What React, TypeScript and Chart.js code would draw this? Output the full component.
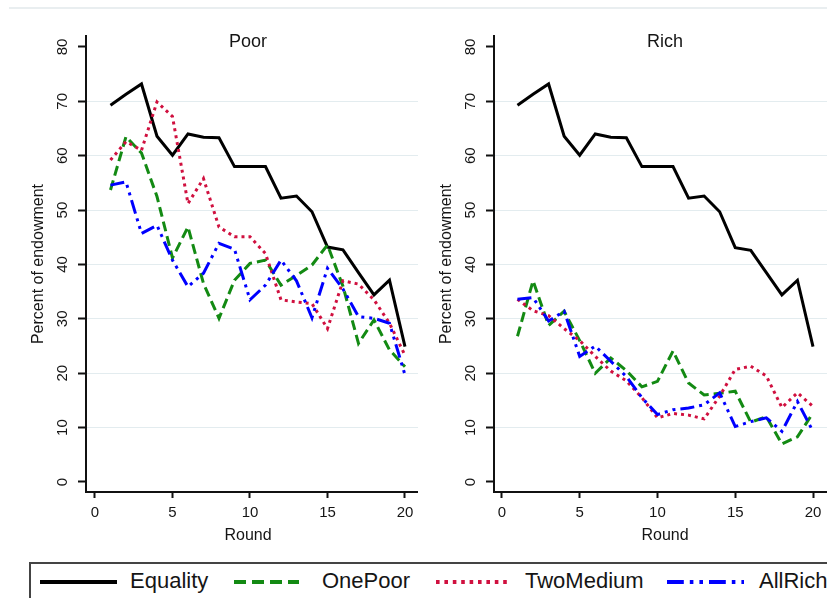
import React, { useEffect, useRef } from "react";
import { Chart, registerables } from "chart.js";

Chart.register(...registerables);

const FONT = "'Liberation Sans', Arial, sans-serif";

const rounds = [1, 2, 3, 4, 5, 6, 7, 8, 9, 10, 11, 12, 13, 14, 15, 16, 17, 18, 19, 20];
const xTicks = [0, 5, 10, 15, 20];
const yTicks = [0, 10, 20, 30, 40, 50, 60, 70, 80];
const seriesNames = ["Equality", "OnePoor", "TwoMedium", "AllRich"];
const panelTitles = ["Poor", "Rich"];
const xTitle = "Round";
const yTitle = "Percent of endowment";

// Poor panel
const poorEquality = [69.3, 71.3, 73.2, 63.6, 60.1, 64.0, 63.4, 63.3, 58.0, 58.0, 58.0, 52.2, 52.6, 49.7, 43.2, 42.7, 38.5, 34.4, 37.1, 24.9];
const poorOnePoor = [53.7, 63.5, 60.5, 52.5, 41.2, 46.9, 36.5, 30.1, 37.1, 40.2, 40.8, 36.2, 38.0, 39.9, 43.6, 36.0, 25.5, 29.8, 24.3, 21.2];
const poorTwoMedium = [59.2, 62.6, 61.0, 69.9, 67.2, 51.2, 55.8, 46.9, 45.1, 45.1, 42.0, 33.5, 33.1, 32.8, 28.2, 37.0, 36.4, 33.5, 29.2, 23.3];
const poorAllRich = [54.6, 55.2, 45.7, 47.2, 40.8, 35.9, 38.4, 43.9, 42.8, 33.5, 36.2, 40.8, 37.0, 30.2, 39.3, 35.5, 30.4, 30.1, 29.2, 19.7];

// Rich panel
const richEquality = [69.3, 71.3, 73.2, 63.6, 60.1, 64.0, 63.4, 63.3, 58.0, 58.0, 58.0, 52.2, 52.6, 49.7, 43.1, 42.6, 38.5, 34.4, 37.1, 24.9];
const richOnePoor = [26.8, 37.0, 28.8, 31.4, 26.0, 20.0, 22.8, 20.5, 17.5, 18.5, 24.1, 18.2, 16.0, 16.3, 16.7, 11.0, 12.0, 7.0, 8.3, 12.7];
const richTwoMedium = [33.6, 31.5, 30.6, 28.2, 26.0, 23.1, 20.4, 18.6, 15.5, 11.8, 12.6, 12.3, 11.6, 15.8, 20.7, 21.3, 19.5, 13.7, 16.4, 13.9];
const richAllRich = [33.6, 33.9, 29.6, 31.4, 23.1, 25.0, 22.2, 19.4, 15.5, 12.4, 13.3, 13.6, 14.2, 16.4, 10.2, 11.1, 11.8, 9.3, 14.8, 9.3];

const seriesColors = ["#000000", "#138a13", "#d0103f", "#0000ff"];
const seriesDash: number[][] = [[], [10, 5], [3, 4], [14, 5, 3, 5, 3, 5]];

type PanelProps = {
  title: string;
  values: number[][];
  left: number;
  width: number;
  xMin: number;
  xMax: number;
  titleCenter: number;
};

const CANVAS_H = 560;
const AREA_TOP = 36;
const AREA_BOTTOM = 492;
const Y_AXIS_W = 74;

function Panel({ title, values, left, width, xMin, xMax, titleCenter }: PanelProps) {
  const ref = useRef<HTMLCanvasElement | null>(null);
  useEffect(() => {
    if (!ref.current) return;
    const textPlugin = {
      id: "panelText",
      afterDraw(chart: any) {
        const ctx = chart.ctx as CanvasRenderingContext2D;
        const ys = chart.scales.y;
        const xs = chart.scales.x;
        const a = chart.chartArea;
        ctx.save();
        ctx.fillStyle = "#151515";
        ctx.textAlign = "center";
        // y tick labels (rotated)
        ctx.font = `15px ${FONT}`;
        ctx.textBaseline = "middle";
        for (const v of yTicks) {
          const py = ys.getPixelForValue(v);
          ctx.save();
          ctx.translate(a.left - 24, py);
          ctx.rotate(-Math.PI / 2);
          ctx.fillText(String(v), 0, 1);
          ctx.restore();
        }
        // x tick labels
        ctx.textBaseline = "alphabetic";
        for (const v of xTicks) {
          ctx.fillText(String(v), xs.getPixelForValue(v), 517);
        }
        // y title
        ctx.font = `16px ${FONT}`;
        ctx.save();
        ctx.translate(a.left - 47, (a.top + a.bottom) / 2);
        ctx.rotate(-Math.PI / 2);
        ctx.textBaseline = "middle";
        ctx.fillText(yTitle, 0, 0);
        ctx.restore();
        // x title
        ctx.fillText(xTitle, a.left + titleCenter, 540);
        // panel title
        ctx.font = `18px ${FONT}`;
        ctx.fillText(title, a.left + titleCenter, 47);
        ctx.restore();
      },
    };
    const chart = new Chart(ref.current, {
      type: "line",
      data: {
        datasets: seriesNames.map((name, i) => ({
          label: name,
          data: rounds.map((r, j) => ({ x: r, y: values[i][j] })),
          borderColor: seriesColors[i],
          backgroundColor: seriesColors[i],
          borderWidth: 3,
          borderDash: seriesDash[i],
          pointRadius: 0,
          tension: 0,
          fill: false,
          order: 4 - i,
        })),
      },
      options: {
        animation: false,
        responsive: false,
        events: [],
        layout: { padding: { left: 0, right: 0, top: AREA_TOP, bottom: 0 } },
        plugins: { legend: { display: false }, tooltip: { enabled: false }, title: { display: false } },
        scales: {
          x: {
            type: "linear",
            min: xMin,
            max: xMax,
            afterBuildTicks: (s: any) => {
              s.ticks = xTicks.map((v) => ({ value: v }));
            },
            afterFit: (s: any) => {
              s.height = CANVAS_H - AREA_BOTTOM;
            },
            ticks: { display: false },
            grid: { drawOnChartArea: false, drawTicks: true, tickLength: 6, tickColor: "#111", tickWidth: 2 },
            border: { display: true, color: "#111", width: 2 },
          },
          y: {
            type: "linear",
            min: -1.84,
            max: 82.02,
            afterBuildTicks: (s: any) => {
              s.ticks = yTicks.map((v) => ({ value: v }));
            },
            afterFit: (s: any) => {
              s.width = Y_AXIS_W;
            },
            ticks: { display: false },
            grid: {
              drawOnChartArea: true,
              drawTicks: true,
              tickLength: 8,
              tickColor: "#111",
              tickWidth: 2,
              lineWidth: 1,
              color: (c: any) => (c.tick && (c.tick.value === 0 || c.tick.value === 80) ? "rgba(0,0,0,0)" : "#e3ecef"),
            },
            border: { display: true, color: "#111", width: 2 },
          },
        },
      },
      plugins: [textPlugin],
    } as any);
    return () => chart.destroy();
  }, [title, values, xMin, xMax, titleCenter]);
  return (
    <canvas
      ref={ref}
      width={width}
      height={CANVAS_H}
      style={{ position: "absolute", left, top: 0, width, height: CANVAS_H }}
    />
  );
}

function LegendSample({ color, dash, x1, x2 }: { color: string; dash: number[]; x1: number; x2: number }) {
  return (
    <svg style={{ position: "absolute", left: x1, top: 10, overflow: "visible" }} width={x2 - x1} height={16}>
      <line
        x1={0}
        y1={8}
        x2={x2 - x1}
        y2={8}
        stroke={color}
        strokeWidth={4}
        strokeDasharray={dash.length ? dash.map((d) => d * 1.2).join(" ") : undefined}
      />
    </svg>
  );
}

export default function App() {
  const legendLines = [
    [9, 86],
    [203, 268],
    [405, 477],
    [636, 713],
  ];
  const legendText = [99, 291, 494, 728];
  return (
    <div
      style={{
        position: "absolute",
        left: 0,
        top: 0,
        width: 827,
        height: 598,
        overflow: "hidden",
        background: "#fff",
        fontFamily: FONT,
      }}
    >
      <div style={{ position: "absolute", left: 9, top: 7, width: 830, height: 2, background: "#e9eef0" }} />
      <Panel
        title={panelTitles[0]}
        values={[poorEquality, poorOnePoor, poorTwoMedium, poorAllRich]}
        left={12}
        width={406}
        xMin={-0.58}
        xMax={20.84}
        titleCenter={162}
      />
      <Panel
        title={panelTitles[1]}
        values={[richEquality, richOnePoor, richTwoMedium, richAllRich]}
        left={420}
        width={407}
        xMin={-0.51}
        xMax={20.9}
        titleCenter={171}
      />
      <div
        style={{
          position: "absolute",
          left: 29,
          top: 562,
          width: 840,
          height: 60,
          border: "2px solid #444",
          boxSizing: "border-box",
        }}
      >
        {seriesNames.map((name, i) => (
          <React.Fragment key={name}>
            <LegendSample color={seriesColors[i]} dash={seriesDash[i]} x1={legendLines[i][0]} x2={legendLines[i][1]} />
            <div
              style={{
                position: "absolute",
                left: legendText[i],
                top: 4,
                fontSize: 22,
                lineHeight: "26px",
                color: "#151515",
                whiteSpace: "nowrap",
              }}
            >
              {name}
            </div>
          </React.Fragment>
        ))}
      </div>
    </div>
  );
}
